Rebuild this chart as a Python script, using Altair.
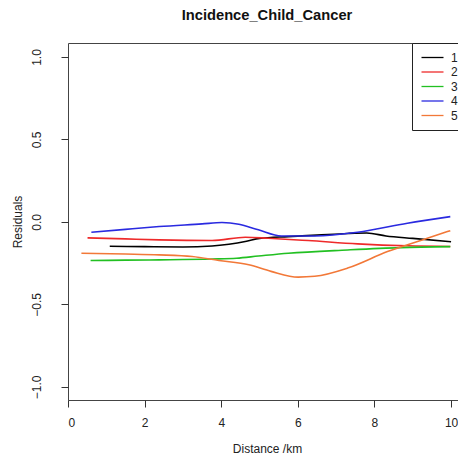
import altair as alt
import pandas as pd

# Series (distance in km, residual)
x1 = [1.09, 2.0, 3.0, 3.76, 4.2, 4.66, 5.0, 5.75, 6.5, 7.3, 7.8, 8.3, 9.0, 10.0]
y1 = [-0.148, -0.150, -0.152, -0.146, -0.135, -0.117, -0.100, -0.089, -0.080, -0.070, -0.067, -0.085, -0.100, -0.120]

x2 = [0.51, 1.5, 2.38, 3.76, 4.63, 5.23, 6.27, 7.56, 8.86, 9.98]
y2 = [-0.097, -0.103, -0.109, -0.113, -0.093, -0.099, -0.113, -0.133, -0.145, -0.149]

x3 = [0.59, 1.5, 2.38, 3.76, 4.4, 4.97, 5.75, 7.3, 8.68, 9.98]
y3 = [-0.234, -0.232, -0.230, -0.225, -0.220, -0.207, -0.190, -0.170, -0.156, -0.150]

x4 = [0.61, 1.5, 2.38, 3.5, 4.02, 4.46, 4.97, 5.57, 6.44, 7.56, 8.86, 9.98]
y4 = [-0.063, -0.045, -0.028, -0.012, -0.004, -0.014, -0.048, -0.085, -0.085, -0.063, -0.008, 0.032]

x5 = [0.35, 1.5, 2.38, 3.24, 3.94, 4.72, 5.3, 6.01, 6.44, 7.3, 8.34, 9.38, 9.98]
y5 = [-0.190, -0.195, -0.200, -0.210, -0.234, -0.260, -0.300, -0.335, -0.330, -0.280, -0.180, -0.099, -0.053]

groups = ["1", "2", "3", "4", "5"]
colors = ["#000000", "#EE2A2A", "#22C022", "#2A2AE0", "#F27838"]

xs = [x1, x2, x3, x4, x5]
ys = [y1, y2, y3, y4, y5]
rows = []
for g, xv, yv in zip(groups, xs, ys):
    for i, (a, b) in enumerate(zip(xv, yv)):
        rows.append({"group": g, "dist": a, "res": b, "order": i})
df = pd.DataFrame(rows)

font = "Liberation Sans"

chart = alt.Chart(df).mark_line(strokeWidth=1.6, interpolate="monotone").encode(
    x=alt.X("dist:Q", title="Distance /km",
            scale=alt.Scale(domain=[0, 10.39], nice=False, zero=False),
            axis=alt.Axis(values=[0, 2, 4, 6, 8, 10], format="d", grid=False, domain=False,
                          tickSize=7, tickColor="#333", labelPadding=10, labelFontSize=12,
                          labelFont=font, labelColor="#222", titleFont=font, titleFontSize=12,
                          titleFontWeight="normal", titleColor="#222", titlePadding=15)),
    y=alt.Y("res:Q", title="Residuals",
            scale=alt.Scale(domain=[-1.08, 1.085], nice=False, zero=False),
            axis=alt.Axis(values=[-1.0, -0.5, 0.0, 0.5, 1.0], format=".1f", grid=False, domain=False,
                          tickSize=7, tickColor="#333", labelAngle=270, labelAlign="center",
                          labelBaseline="bottom", labelPadding=17.5, labelFontSize=12,
                          labelFont=font, labelColor="#222", titleFont=font, titleFontSize=12,
                          titleFontWeight="normal", titleColor="#222", titlePadding=6)),
    color=alt.Color("group:N", scale=alt.Scale(domain=groups, range=colors),
                    legend=alt.Legend(title=None, orient="none", legendX=344, legendY=0,
                                      symbolType="M-2,0H2", symbolSize=121, symbolStrokeWidth=1.3,
                                      symbolOffset=6, labelOffset=12,
                                      labelFont=font, labelFontSize=12, labelColor="#222",
                                      strokeColor="#222", fillColor="white", padding=8,
                                      rowPadding=1.5)),
    order="order:Q",
).properties(
    width=398, height=357,
    title=alt.Title("Incidence_Child_Cancer", font=font, fontSize=14.7, fontWeight="bold",
                    color="#111", anchor="middle", baseline="alphabetic", offset=8, frame="group"),
    autosize=alt.AutoSizeParams(type="none"),
    padding={"left": 60, "top": 35, "right": -8, "bottom": 55},
).configure_view(stroke="#444", strokeWidth=1)

chart.save("out.html", embed_options={"renderer": "svg", "actions": False})
